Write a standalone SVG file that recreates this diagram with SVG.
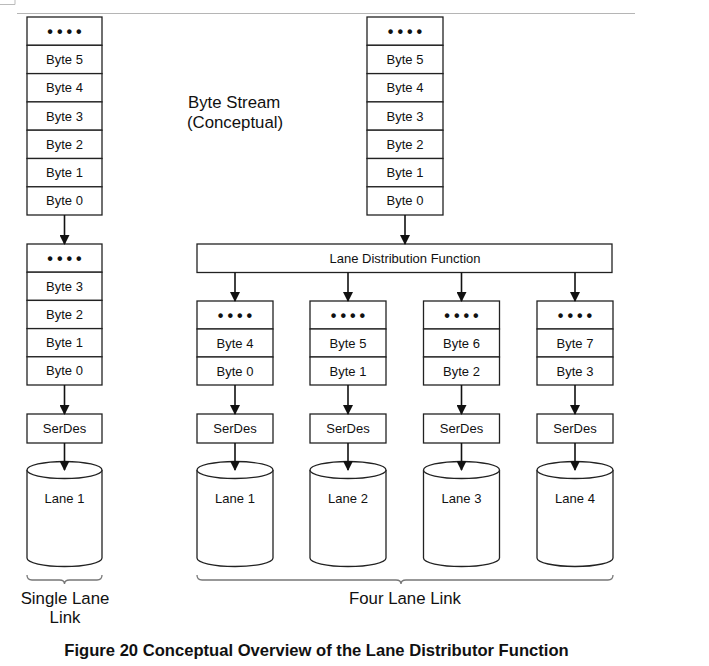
<svg xmlns="http://www.w3.org/2000/svg" width="709" height="666" viewBox="0 0 709 666">
<style>
.cell{fill:#fff;stroke:#222;stroke-width:1.3}
.t{font-family:"Liberation Sans",Arial,sans-serif;font-size:13px;fill:#111;text-anchor:middle}
.d{font-family:"Liberation Sans",Arial,sans-serif;font-size:16px;font-weight:bold;fill:#111;text-anchor:middle;letter-spacing:4px}
.lbl{font-family:"Liberation Sans",Arial,sans-serif;font-size:16.8px;fill:#111}
.cap{font-family:"Liberation Sans",Arial,sans-serif;font-size:16.6px;font-weight:bold;fill:#111}
.conn line{stroke:#111;stroke-width:1.6;marker-end:url(#ah)}
.brace{fill:none;stroke:#777;stroke-width:1.3}
</style>
<defs>
<marker id="ah" markerWidth="10" markerHeight="10" refX="9" refY="5" orient="auto" markerUnits="userSpaceOnUse">
<path d="M0,0 L10,5 L0,10 z" fill="#111"/>
</marker>
</defs>
<rect width="709" height="666" fill="#fff"/>
<path d="M0,4.5 H15 V0" fill="none" stroke="#bbb" stroke-width="1"/>
<line x1="17" y1="13.5" x2="635" y2="13.5" stroke="#b5b5b5" stroke-width="1.2"/>

<g id="stream-left">
<rect class="cell" x="27" y="17" width="75" height="28.3"/>
<rect class="cell" x="27" y="45.3" width="75" height="28.3"/>
<rect class="cell" x="27" y="73.6" width="75" height="28.3"/>
<rect class="cell" x="27" y="101.9" width="75" height="28.3"/>
<rect class="cell" x="27" y="130.2" width="75" height="28.3"/>
<rect class="cell" x="27" y="158.5" width="75" height="28.3"/>
<rect class="cell" x="27" y="186.8" width="75" height="28.2"/>
<text class="d" x="66.5" y="36.5">••••</text>
<text class="t" x="64.5" y="64">Byte 5</text>
<text class="t" x="64.5" y="92.3">Byte 4</text>
<text class="t" x="64.5" y="120.6">Byte 3</text>
<text class="t" x="64.5" y="148.9">Byte 2</text>
<text class="t" x="64.5" y="177.2">Byte 1</text>
<text class="t" x="64.5" y="205.4">Byte 0</text>
</g>

<g id="stream-right">
<rect class="cell" x="367" y="17" width="76" height="28.3"/>
<rect class="cell" x="367" y="45.3" width="76" height="28.3"/>
<rect class="cell" x="367" y="73.6" width="76" height="28.3"/>
<rect class="cell" x="367" y="101.9" width="76" height="28.3"/>
<rect class="cell" x="367" y="130.2" width="76" height="28.3"/>
<rect class="cell" x="367" y="158.5" width="76" height="28.3"/>
<rect class="cell" x="367" y="186.8" width="76" height="28.2"/>
<text class="d" x="407" y="36.5">••••</text>
<text class="t" x="405" y="64">Byte 5</text>
<text class="t" x="405" y="92.3">Byte 4</text>
<text class="t" x="405" y="120.6">Byte 3</text>
<text class="t" x="405" y="148.9">Byte 2</text>
<text class="t" x="405" y="177.2">Byte 1</text>
<text class="t" x="405" y="205.4">Byte 0</text>
</g>

<g id="stream-label">
<text class="lbl" x="188" y="107.5">Byte Stream</text>
<text class="lbl" x="187" y="127.5">(Conceptual)</text>
</g>

<g id="single-lane-bytes">
<rect class="cell" x="27" y="244" width="75" height="28.2"/>
<rect class="cell" x="27" y="272.2" width="75" height="28.2"/>
<rect class="cell" x="27" y="300.4" width="75" height="28.2"/>
<rect class="cell" x="27" y="328.6" width="75" height="28.2"/>
<rect class="cell" x="27" y="356.8" width="75" height="28.2"/>
<text class="d" x="66.5" y="263.5">••••</text>
<text class="t" x="64.5" y="290.7">Byte 3</text>
<text class="t" x="64.5" y="318.9">Byte 2</text>
<text class="t" x="64.5" y="347.1">Byte 1</text>
<text class="t" x="64.5" y="375.3">Byte 0</text>
</g>

<g id="lane-distribution">
<rect class="cell" x="197" y="244" width="415" height="28.5"/>
<text class="t" x="405" y="262.7">Lane Distribution Function</text>
</g>

<g id="lane1-bytes">
<rect class="cell" x="197" y="301" width="76" height="28"/>
<rect class="cell" x="197" y="329" width="76" height="28"/>
<rect class="cell" x="197" y="357" width="76" height="28"/>
<text class="d" x="237" y="320.5">••••</text>
<text class="t" x="235" y="347.5">Byte 4</text>
<text class="t" x="235" y="375.5">Byte 0</text>
</g>
<g id="lane2-bytes">
<rect class="cell" x="310" y="301" width="76" height="28"/>
<rect class="cell" x="310" y="329" width="76" height="28"/>
<rect class="cell" x="310" y="357" width="76" height="28"/>
<text class="d" x="350" y="320.5">••••</text>
<text class="t" x="348" y="347.5">Byte 5</text>
<text class="t" x="348" y="375.5">Byte 1</text>
</g>
<g id="lane3-bytes">
<rect class="cell" x="423.5" y="301" width="76" height="28"/>
<rect class="cell" x="423.5" y="329" width="76" height="28"/>
<rect class="cell" x="423.5" y="357" width="76" height="28"/>
<text class="d" x="463.5" y="320.5">••••</text>
<text class="t" x="461.5" y="347.5">Byte 6</text>
<text class="t" x="461.5" y="375.5">Byte 2</text>
</g>
<g id="lane4-bytes">
<rect class="cell" x="537" y="301" width="76" height="28"/>
<rect class="cell" x="537" y="329" width="76" height="28"/>
<rect class="cell" x="537" y="357" width="76" height="28"/>
<text class="d" x="577" y="320.5">••••</text>
<text class="t" x="575" y="347.5">Byte 7</text>
<text class="t" x="575" y="375.5">Byte 3</text>
</g>

<g id="serdes-single">
<rect class="cell" x="27" y="414" width="75" height="29"/>
<text class="t" x="64.5" y="432.8">SerDes</text>
</g>
<g id="serdes-1">
<rect class="cell" x="197" y="414" width="76" height="29"/>
<text class="t" x="235" y="432.8">SerDes</text>
</g>
<g id="serdes-2">
<rect class="cell" x="310" y="414" width="76" height="29"/>
<text class="t" x="348" y="432.8">SerDes</text>
</g>
<g id="serdes-3">
<rect class="cell" x="423.5" y="414" width="76" height="29"/>
<text class="t" x="461.5" y="432.8">SerDes</text>
</g>
<g id="serdes-4">
<rect class="cell" x="537" y="414" width="76" height="29"/>
<text class="t" x="575" y="432.8">SerDes</text>
</g>

<g id="lane-single">
<path class="cell" d="M27,470 V558 A37.5,8.5 0 0 0 102,558 V470"/>
<ellipse class="cell" cx="64.5" cy="470" rx="37.5" ry="8.5"/>
<text class="t" x="64.5" y="502.5">Lane 1</text>
</g>
<g id="lane-1">
<path class="cell" d="M197,470 V558 A38,8.5 0 0 0 273,558 V470"/>
<ellipse class="cell" cx="235" cy="470" rx="38" ry="8.5"/>
<text class="t" x="235" y="502.5">Lane 1</text>
</g>
<g id="lane-2">
<path class="cell" d="M310,470 V558 A38,8.5 0 0 0 386,558 V470"/>
<ellipse class="cell" cx="348" cy="470" rx="38" ry="8.5"/>
<text class="t" x="348" y="502.5">Lane 2</text>
</g>
<g id="lane-3">
<path class="cell" d="M423.5,470 V558 A38,8.5 0 0 0 499.5,558 V470"/>
<ellipse class="cell" cx="461.5" cy="470" rx="38" ry="8.5"/>
<text class="t" x="461.5" y="502.5">Lane 3</text>
</g>
<g id="lane-4">
<path class="cell" d="M537,470 V558 A38,8.5 0 0 0 613,558 V470"/>
<ellipse class="cell" cx="575" cy="470" rx="38" ry="8.5"/>
<text class="t" x="575" y="502.5">Lane 4</text>
</g>

<g class="conn" id="connectors">
<line x1="64.5" y1="215" x2="64.5" y2="244"/>
<line x1="64.5" y1="385" x2="64.5" y2="414"/>
<line x1="64.5" y1="443" x2="64.5" y2="470"/>
<line x1="405" y1="215" x2="405" y2="244"/>
<line x1="235" y1="272.5" x2="235" y2="301"/>
<line x1="348" y1="272.5" x2="348" y2="301"/>
<line x1="461.5" y1="272.5" x2="461.5" y2="301"/>
<line x1="575" y1="272.5" x2="575" y2="301"/>
<line x1="235" y1="385" x2="235" y2="414"/>
<line x1="348" y1="385" x2="348" y2="414"/>
<line x1="461.5" y1="385" x2="461.5" y2="414"/>
<line x1="575" y1="385" x2="575" y2="414"/>
<line x1="235" y1="443" x2="235" y2="470"/>
<line x1="348" y1="443" x2="348" y2="470"/>
<line x1="461.5" y1="443" x2="461.5" y2="470"/>
<line x1="575" y1="443" x2="575" y2="470"/>
</g>

<g id="brace-single">
<path class="brace" d="M27,575 Q27,580 32,580 H59.5 Q64.5,580 64.5,584 Q64.5,580 69.5,580 H97 Q102,580 102,575"/>
<text class="lbl" x="65" y="604" text-anchor="middle">Single Lane</text>
<text class="lbl" x="65" y="622.5" text-anchor="middle">Link</text>
</g>
<g id="brace-four">
<path class="brace" d="M197,575 Q197,580 202,580 H396 Q401,580 401,584 Q401,580 406,580 H608 Q613,580 613,575"/>
<text class="lbl" x="405" y="604" text-anchor="middle">Four Lane Link</text>
</g>

<text class="cap" x="316.5" y="656" text-anchor="middle">Figure 20 Conceptual Overview of the Lane Distributor Function</text>
</svg>
